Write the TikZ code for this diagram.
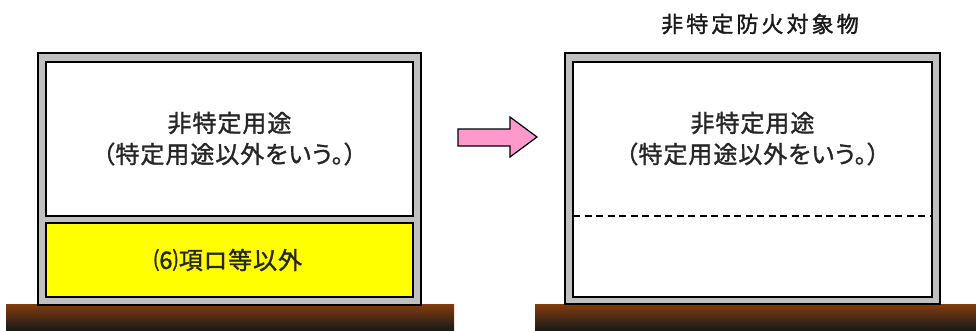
\documentclass[tikz,border=0pt]{standalone}
\usepackage{fontspec}
\newfontfamily\jp[LetterSpace=4,FakeBold=1.3]{Noto Sans CJK JP}
\newfontfamily\jpk[LetterSpace=4,FakeBold=1.3,RawFeature=+palt]{Noto Sans CJK JP}
\newfontfamily\jpt[LetterSpace=14,FakeBold=1.5]{Noto Sans CJK JP}
\definecolor{wallgray}{RGB}{192,192,192}
\definecolor{groundbrown}{RGB}{132,60,12}
\definecolor{groundmid}{RGB}{100,44,8}
\definecolor{arrowpink}{RGB}{255,153,204}
\definecolor{floor6}{RGB}{255,255,0}
\tikzset{
  wall/.style={fill=wallgray,draw=black,line width=1.6pt},
  room/.style={fill=white,draw=black,line width=1.6pt},
  yroom/.style={fill=floor6,draw=black,line width=1.6pt},
  ground/.style={top color=groundbrown,middle color=groundmid,bottom color=black!90,draw=none},
  lbl/.style={inner sep=0pt,font=\jp\fontsize{24}{27}\selectfont,text=black!85},
  lblk/.style={inner sep=0pt,font=\jpk\fontsize{24}{27}\selectfont,text=black!85},
  ttl/.style={inner sep=0pt,font=\jpt\fontsize{22}{25}\selectfont,text=black!90},
  bigarrow/.style={fill=arrowpink,draw=black,line width=1.2pt,line join=miter},
  dashline/.style={draw=black,line width=1.5pt,dash pattern=on 7pt off 4.5pt}
}
\begin{document}
\begin{tikzpicture}[x=1pt,y=-1pt]
\useasboundingbox (0,0) rectangle (976,330);
% grounds
\path[ground] (6,304) rectangle (454,330);
\path[ground] (535,304) rectangle (976,330);
% left building
\draw[wall] (38,53) rectangle (421,305);
\draw[room] (46,62) rectangle (413,216);
\draw[yroom] (46,223) rectangle (413,297);
\node[lbl] (l1) at (229.5,123) {非特定用途};
\node[lblk] (l2) at (229.5,154) {（特定用途以外をいう。）};
\node[lblk] (l3) at (228,260) {⑹項ロ等以外};
% arrow
\draw[bigarrow] (458,129) -- (510,129) -- (510,117) -- (537,137) -- (510,157) -- (510,146) -- (458,146) -- cycle;
% right building
\node[ttl] (t) at (760,24) {非特定防火対象物};
\draw[wall] (565,53) rectangle (940,304);
\draw[room] (573,62) rectangle (932,297);
\draw[dashline] (573,216) -- (932,216);
\node[lbl] (r1) at (752.5,123) {非特定用途};
\node[lblk] (r2) at (752.5,154) {（特定用途以外をいう。）};
\end{tikzpicture}
\end{document}
